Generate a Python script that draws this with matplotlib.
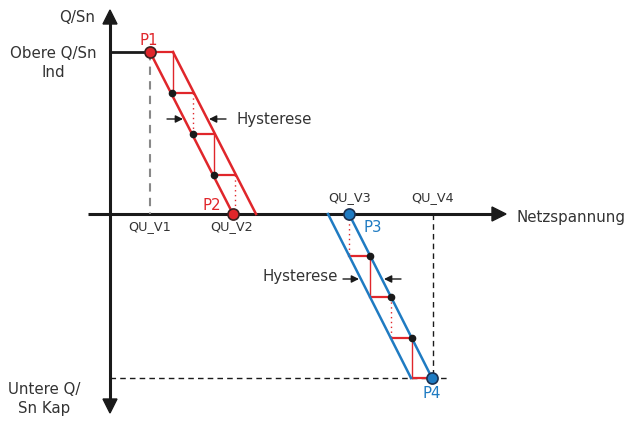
import matplotlib
matplotlib.use("Agg")
import matplotlib.pyplot as plt
from matplotlib.patches import FancyArrowPatch, Polygon

plt.rcParams['font.family'] = ['DejaVu Sans']

RED = '#E0262B'
BLUE = '#1F7BC2'
BLACK = '#1a1a1a'
TXT = '#333333'

# Diagram geometry (pixel coordinates of the schematic)
origin_x, origin_y = 110, 214
p_points = {'P1': (150, 52), 'P2': (233, 214), 'P3': (349, 214), 'P4': (432, 378)}
red_left = [(150, 52), (233, 214)]
red_right = [(173, 52), (256, 214)]
blue_left = [(328, 214), (411, 378)]
blue_right = [(349, 214), (432, 378)]
red_steps_h = [((150, 173), 52), ((172, 193), 93), ((193, 214), 134), ((214, 235), 175)]
red_steps_v_solid = [(173, 52, 93), (214, 134, 175)]
red_steps_v_dot = [(193, 93, 134), (235, 175, 214)]
red_dots = [(172, 93), (193, 134), (214, 175)]
blue_steps_h = [((349, 370), 256), ((370, 391), 297), ((391, 412), 338), ((411, 432), 378)]
blue_steps_v_solid = [(370, 256, 297), (412, 338, 378)]
blue_steps_v_dot = [(349, 214, 256), (391, 297, 338)]
blue_dots = [(370, 256), (391, 297), (412, 338)]

fig = plt.figure(figsize=(6.3, 4.25), dpi=100)
ax = fig.add_axes([0, 0, 1, 1])
ax.set_xlim(0, 630)
ax.set_ylim(425, 0)
ax.axis('off')

# axes
ax.plot([origin_x, origin_x], [22, 402], color=BLACK, lw=2.2, solid_capstyle='butt')
ax.add_patch(Polygon([(110, 10), (103, 24), (117, 24)], closed=True, color=BLACK))
ax.add_patch(Polygon([(110, 413), (103, 399), (117, 399)], closed=True, color=BLACK))
ax.plot([88, 494], [origin_y, origin_y], color=BLACK, lw=2.2, solid_capstyle='butt')
ax.add_patch(Polygon([(506, 214), (492, 207), (492, 221)], closed=True, color=BLACK))

# upper level line
ax.plot([110, 150], [52, 52], color=BLACK, lw=2.0)
# dashed guides
ax.plot([150, 150], [52, 214], color='#888888', lw=1.5, ls=(0, (4, 3)))
ax.plot([433, 433], [214, 378], color=BLACK, lw=1.0, ls=(0, (4, 3)))
ax.plot([110, 447], [378, 378], color=BLACK, lw=1.0, ls=(0, (4, 3)))

# red staircase
for (x0, x1), y in red_steps_h:
    ax.plot([x0, x1], [y, y], color=RED, lw=1.6)
for x, y0, y1 in red_steps_v_solid:
    ax.plot([x, x], [y0, y1], color=RED, lw=1.0)
for x, y0, y1 in red_steps_v_dot:
    ax.plot([x, x], [y0, y1], color=RED, lw=1.0, ls=(0, (1, 2.5)))
for seg in (red_left, red_right):
    ax.plot([seg[0][0], seg[1][0]], [seg[0][1], seg[1][1]], color=RED, lw=1.8)
for x, y in red_dots:
    ax.plot(x, y, 'o', color=BLACK, ms=4.5)

# blue staircase (red steps)
for (x0, x1), y in blue_steps_h:
    ax.plot([x0, x1], [y, y], color=RED, lw=1.6)
for x, y0, y1 in blue_steps_v_solid:
    ax.plot([x, x], [y0, y1], color=RED, lw=1.0)
for x, y0, y1 in blue_steps_v_dot:
    ax.plot([x, x], [y0, y1], color=RED, lw=1.0, ls=(0, (1, 2.5)))
for seg in (blue_left, blue_right):
    ax.plot([seg[0][0], seg[1][0]], [seg[0][1], seg[1][1]], color=BLUE, lw=1.8)
for x, y in blue_dots:
    ax.plot(x, y, 'o', color=BLACK, ms=4.5)

# points
for name, (x, y) in p_points.items():
    c = RED if name in ('P1', 'P2') else BLUE
    ax.plot(x, y, 'o', ms=8, mfc=c, mec='#3a2020' if c == RED else '#1a3050', mew=1.2, zorder=5)

# hysteresis arrows
def harrow(x0, x1, y):
    ax.add_patch(FancyArrowPatch((x0, y), (x1, y), arrowstyle='-|>', mutation_scale=11,
                                 color=BLACK, lw=1.0, shrinkA=0, shrinkB=0))
harrow(167, 183, 119)
harrow(226, 209, 119)
harrow(343, 359, 279)
harrow(401, 384, 279)

fs = 10.8
ax.text(236, 119, 'Hysterese', fontsize=fs, color=TXT, va='center', ha='left')
ax.text(338, 276, 'Hysterese', fontsize=fs, color=TXT, va='center', ha='right')

ax.text(149, 40, 'P1', fontsize=fs, color=RED, ha='center', va='center')
ax.text(212, 205, 'P2', fontsize=fs, color=RED, ha='center', va='center')
ax.text(373, 227, 'P3', fontsize=fs, color=BLUE, ha='center', va='center')
ax.text(432, 394, 'P4', fontsize=fs, color=BLUE, ha='center', va='center')

qfs = 9.2
ax.text(150, 227, 'QU_V1', fontsize=qfs, color=TXT, ha='center', va='center')
ax.text(232, 227, 'QU_V2', fontsize=qfs, color=TXT, ha='center', va='center')
ax.text(350, 198, 'QU_V3', fontsize=qfs, color=TXT, ha='center', va='center')
ax.text(433, 198, 'QU_V4', fontsize=qfs, color=TXT, ha='center', va='center')

ax.text(517, 217, 'Netzspannung', fontsize=fs, color=TXT, ha='left', va='center')
ax.text(77, 17, 'Q/Sn', fontsize=fs, color=TXT, ha='center', va='center')
ax.text(53, 63, 'Obere Q/Sn\nInd', fontsize=fs, color=TXT, ha='center', va='center',
        linespacing=1.3)
ax.text(44, 399, 'Untere Q/\nSn Kap', fontsize=fs, color=TXT, ha='center', va='center',
        linespacing=1.3)

fig.savefig('out.png', dpi=100)
